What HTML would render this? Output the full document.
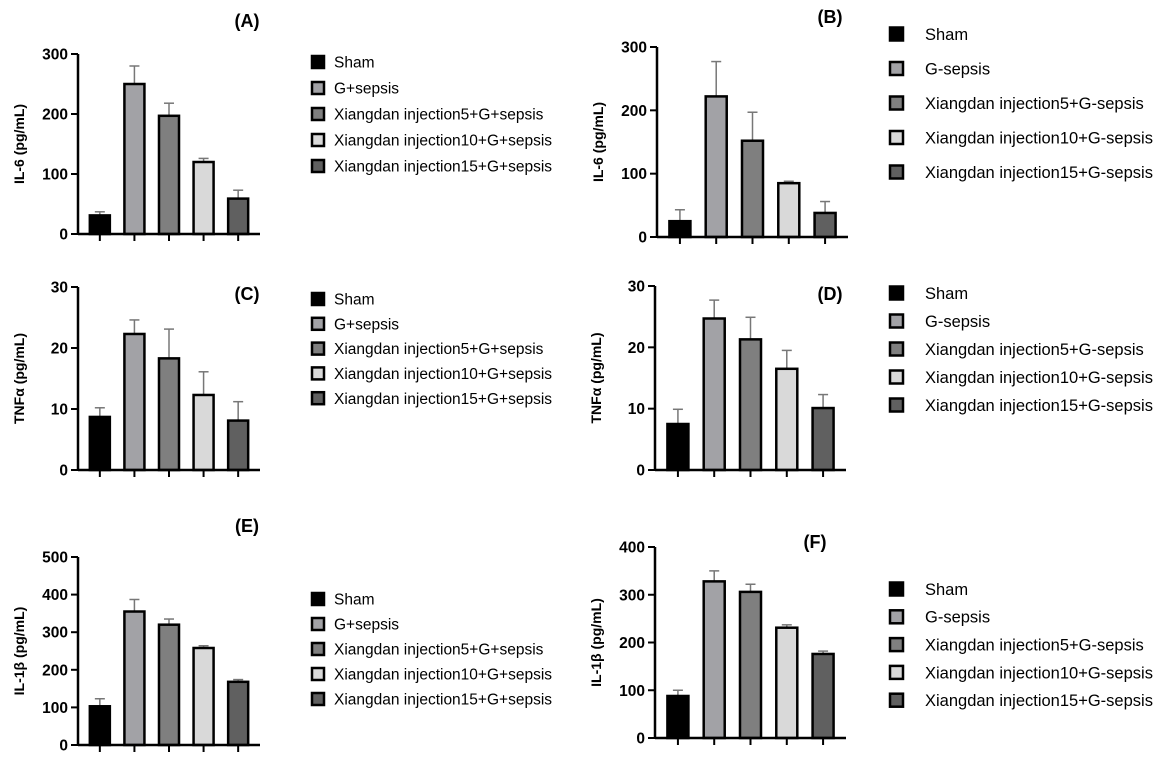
<!DOCTYPE html>
<html><head><meta charset="utf-8"><style>
body{margin:0;background:#fff;}
svg{display:block;font-family:"Liberation Sans",Arial,sans-serif;}
</style></head><body>
<svg id="chart" width="1170" height="761" viewBox="0 0 1170 761"></svg>
<script>
const groups = ["Sham","G+sepsis","Xiangdan injection5+G+sepsis","Xiangdan injection10+G+sepsis","Xiangdan injection15+G+sepsis"];
const groupsB = ["Sham","G-sepsis","Xiangdan injection5+G-sepsis","Xiangdan injection10+G-sepsis","Xiangdan injection15+G-sepsis"];
const colors = ["#000000","#a2a2a6","#7f7f7f","#d9d9d9","#606060"];
const valsA = [31,250,197,120,59];   const errA = [6,30,21,6,14];
const valsB = [25,222,152,85,38];    const errB = [18,55,45,3,18];
const valsC = [8.7,22.3,18.3,12.3,8.1]; const errC = [1.5,2.3,4.8,3.8,3.1];
const valsD = [7.5,24.7,21.3,16.5,10.1]; const errD = [2.4,3,3.6,3,2.2];
const valsE = [103,355,320,258,168]; const errE = [20,32,15,6,6];
const valsF = [88,328,306,231,176];  const errF = [12,22,16,6,6];
const ticksA = [0,100,200,300], ticksC = [0,10,20,30], ticksE = [0,100,200,300,400,500], ticksF = [0,100,200,300,400];

const panels = [
 {id:"a",title:"(A)",tx:247,ty:27,ax:78,y0:234,ytop:54,max:300,ticks:ticksA,vals:valsA,err:errA,ylab:"IL-6 (pg/mL)",xend:260,labels:groups,lx:312,ly:62,ls:26,fs:15.5},
 {id:"b",title:"(B)",tx:830,ty:23,ax:657,y0:237,ytop:47,max:300,ticks:ticksA,vals:valsB,err:errB,ylab:"IL-6 (pg/mL)",xend:848,labels:groupsB,lx:890,ly:34,ls:34.5,fs:16.5},
 {id:"c",title:"(C)",tx:247,ty:300,ax:78,y0:470,ytop:287,max:30,ticks:ticksC,vals:valsC,err:errC,ylab:"TNFα (pg/mL)",xend:260,labels:groups,lx:312,ly:299,ls:24.8,fs:15.5},
 {id:"d",title:"(D)",tx:830,ty:300,ax:655,y0:470,ytop:286,max:30,ticks:ticksC,vals:valsD,err:errD,ylab:"TNFα (pg/mL)",xend:846,labels:groupsB,lx:890,ly:293,ls:28,fs:16.5},
 {id:"e",title:"(E)",tx:247,ty:532,ax:78,y0:745,ytop:557,max:500,ticks:ticksE,vals:valsE,err:errE,ylab:"IL-1β (pg/mL)",xend:260,labels:groups,lx:312,ly:599,ls:25,fs:15.5},
 {id:"f",title:"(F)",tx:815,ty:548,ax:655,y0:738,ytop:547,max:400,ticks:ticksF,vals:valsF,err:errF,ylab:"IL-1β (pg/mL)",xend:846,labels:groupsB,lx:890,ly:589,ls:27.8,fs:16.5}
];
const NS="http://www.w3.org/2000/svg";
const svg=document.getElementById("chart");
function mk(tag,attrs,parent,text){const e=document.createElementNS(NS,tag);for(const k in attrs)e.setAttribute(k,attrs[k]);if(text!==undefined)e.textContent=text;(parent||svg).appendChild(e);return e;}
panels.forEach(p=>{
  const g=mk("g",{});
  
  
  const y=v=>p.y0-(v/p.max)*(p.y0-p.ytop);
  const span=p.xend-p.ax;
  const xc=i=>p.ax+span*(0.12+0.19*i);
  const bw=span*0.11;
  const t=mk("text",{x:p.tx,y:p.ty,"font-size":18,"font-weight":"bold","text-anchor":"middle"},g,p.title);
  
  
  p.vals.forEach((v,i)=>{
    const el=mk("line",{x1:xc(i),x2:xc(i),y1:y(v),y2:y(v+p.err[i]),stroke:"#777","stroke-width":1.5},g);
    
    
    const cap=mk("line",{x1:xc(i)-5,x2:xc(i)+5,y1:y(v+p.err[i]),y2:y(v+p.err[i]),stroke:"#777","stroke-width":1.5},g);
    
    
    const r=mk("rect",{x:xc(i)-bw/2,y:y(v),width:bw,height:p.y0-y(v),fill:colors[i],stroke:"#000","stroke-width":2.5},g);
    
    
    const tk=mk("line",{x1:xc(i),x2:xc(i),y1:p.y0,y2:p.y0+7,stroke:"#000","stroke-width":2},g);
    
    
  });
  const xa=mk("line",{x1:p.ax,x2:p.xend,y1:p.y0,y2:p.y0,stroke:"#000","stroke-width":2.5},g);
  
  
  const ya=mk("line",{x1:p.ax,x2:p.ax,y1:p.y0+1,y2:p.ytop,stroke:"#000","stroke-width":2.5},g);
  
  
  p.ticks.forEach(tv=>{
    const l=mk("line",{x1:p.ax-7,x2:p.ax,y1:y(tv),y2:y(tv),stroke:"#000","stroke-width":2},g);
    
    
    const tl=mk("text",{x:p.ax-10,y:y(tv)+5.5,"font-size":15.5,"font-weight":"bold","text-anchor":"end"},g,String(tv));
    
    
  });
  const yl=mk("text",{x:0,y:0,"font-size":14,"font-weight":"bold","text-anchor":"middle",transform:`translate(${p.ax-54},${(p.y0+p.ytop)/2}) rotate(-90)`},g,p.ylab);
  
  
  p.labels.forEach((lab,i)=>{
    const ly=p.ly+p.ls*i;
    const sq=p.fs>16?13:12;
    const s=mk("rect",{x:p.lx,y:ly-sq/2,width:sq,height:sq,fill:colors[i],stroke:"#000","stroke-width":2.5},g);
    
    
    const lt=mk("text",{x:p.lx+(p.fs>16?35:22),y:ly+p.fs*0.36,"font-size":p.fs},g,lab);
    
    
  });
});
</script>
</body></html>
